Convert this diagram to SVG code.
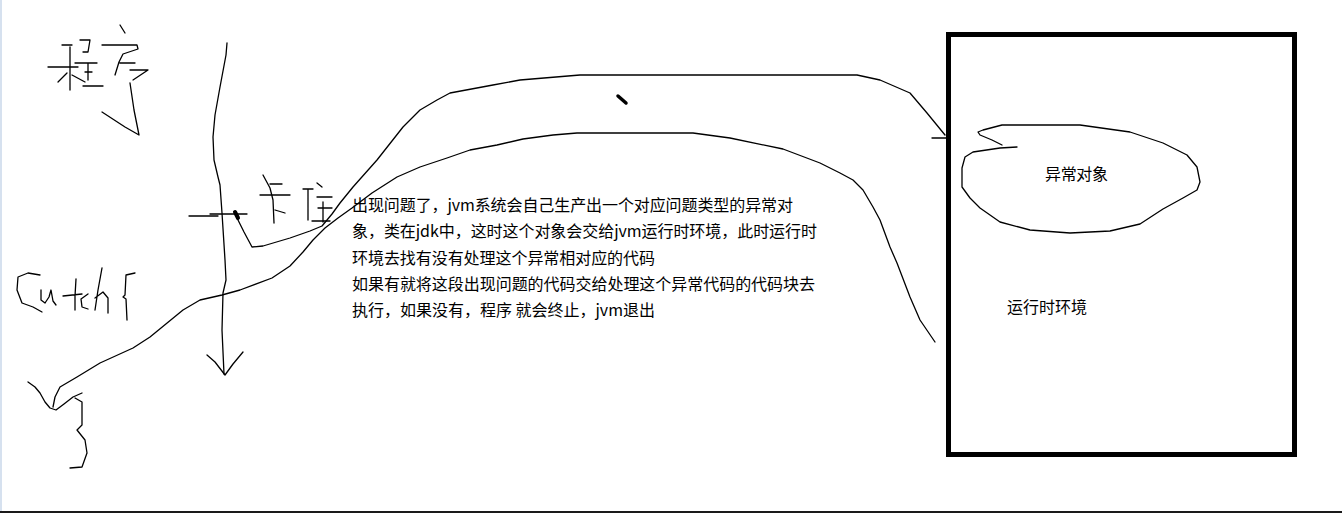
<svg xmlns="http://www.w3.org/2000/svg" width="1342" height="513" viewBox="0 0 1342 513">
<style>
.ink{fill:none;stroke:#000;stroke-width:1.3;stroke-linejoin:round;stroke-linecap:round}
.txt{font-family:"Microsoft YaHei","Noto Sans CJK SC",sans-serif;font-size:16px;fill:#000}
</style>
<rect x="0" y="0" width="1342" height="513" fill="#fff"/>
<rect x="0" y="0" width="2" height="511" fill="#d6e1ef"/>
<rect x="0" y="511" width="1342" height="2" fill="#1a1a1a"/>

<g id="program-label">
<path class="ink" d="M62,45 L72,45 M48,67 L78,67 M70,47 L70,90 M58,82 L67,73 M72,75 L85,82 M80,40 L90,40 L88,52 L83,52 M75,63 L97,63 M88,63 L88,80 M85,72 L92,72 M83,86 L103,86"/>
<path class="ink" d="M120,25 L125,33 M102,45 L137,45 L138,49 L123,54 L119,62 L115,75 M120,63 L135,63 M130,70 L148,70 L133,80 M130,83 L134,110 L139,135 L125,127 L102,112"/>
</g>

<g id="main-flow">
<path class="ink" d="M227,43 L226,55 L220,87 L215,115 L213,137 L214,160 L218,177 L220,185 L222,213 L225,260 L226,280 L223,293 L222,330 L224,374"/>
<path class="ink" d="M207,355 L215,362 L225,375 L233,364 L243,352"/>
<path class="ink" d="M189,216 L218,216 M210,214 L247,214"/>
<path fill="none" stroke="#000" stroke-width="4" stroke-linecap="round" d="M235,212 L238,218"/>
</g>

<g id="stuck-label">
<path class="ink" d="M263,175 L270,188 L273,200 L274,223 M270,184 L282,184 M260,195 L290,195 M275,210 L285,213"/>
<path class="ink" d="M317,183 L322,187 M303,189 L313,189 M308,190 L308,220 M317,197 L332,197 M323,202 L323,222 M318,208 L332,208 M312,221 L330,221"/>
</g>

<g id="catch-label">
<path class="ink" d="M40,275 L28,273 L18,277 L17,290 L22,303 L33,307 L42,312"/>
<path class="ink" d="M41,290 L41,300 L45,303 L49,297 L51,290 L53,301 L56,305"/>
<path class="ink" d="M76,279 L75,296 L75,310 M63,296 L82,294"/>
<path class="ink" d="M88,294 L81,299 L82,307 L88,309"/>
<path class="ink" d="M102,268 L98,290 L95,310 M95,298 L103,292 L108,298 L108,313"/>
<path class="ink" d="M135,273 L126,275 L125,295 L123,297 L126,299 L127,320"/>
<path class="ink" d="M28,382 L35,387 L40,393 L45,402 L50,408 L56,410 L64,404 L73,397 L82,393"/>
<path class="ink" d="M75,398 L82,402 L82,425 L77,430 L85,440 L87,453 L82,467 L70,468"/>
</g>

<g id="connectors">
<path class="ink" d="M237,218 L244,232 L252,247 L263,246 L290,238 L310,231 L322,226 L332,214 L340,203 L353,187 L377,160 L403,127 L420,110 L437,100 L450,93 L493,85 L520,80 L580,75 L857,75 L880,80 L910,93 L927,113 L945,135"/>
<path class="ink" d="M932,138 L946,138"/>
<path class="ink" d="M935,342 L920,320 L910,297 L897,263 L890,247 L880,220 L873,207 L863,190 L853,180 L840,173 L820,163 L783,149 L730,138 L693,133 L577,133 L553,135 L523,139 L497,145 L470,150 L447,158 L420,167 L397,177 L372,193 L352,208 L338,218 L325,228 L313,240 L303,252 L290,266 L272,278 L240,290 L222,295 L200,300 L183,310 L150,337 L133,348 L100,363 L77,377 L60,387 L55,397 L53,407"/>
<path fill="none" stroke="#000" stroke-width="3.5" stroke-linecap="round" d="M618,96 L626,103"/>
</g>

<g id="explanation">
<text class="txt" x="352" y="211" textLength="441">出现问题了，jvm系统会自己生产出一个对应问题类型的异常对</text>
<text class="txt" x="352" y="237" textLength="465">象，类在jdk中，这时这个对象会交给jvm运行时环境，此时运行时</text>
<text class="txt" x="352" y="264" textLength="303">环境去找有没有处理这个异常相对应的代码</text>
<text class="txt" x="352" y="290" textLength="463">如果有就将这段出现问题的代码交给处理这个异常代码的代码块去</text>
<text class="txt" x="352" y="316" textLength="303">执行，如果没有，程序 就会终止，jvm退出</text>
</g>

<g id="runtime-env">
<rect x="948.5" y="34.5" width="346" height="420" fill="none" stroke="#000" stroke-width="5"/>
<text class="txt" x="1007" y="313" textLength="80">运行时环境</text>
</g>

<g id="exception-object">
<path class="ink" d="M1017,147 L1000,148 L973,152 L965,157 L962,168 L962,187 L970,198 L980,208 L1000,222 L1030,230 L1070,233 L1110,231 L1140,224 L1163,209 L1183,198 L1197,190 L1200,182 L1197,167 L1187,155 L1163,143 L1130,132 L1080,125 L1002,125 L983,130 L978,132 L980,135 L992,140 L1002,145"/>
<text class="txt" x="1045" y="180" textLength="63">异常对象</text>
</g>
</svg>
